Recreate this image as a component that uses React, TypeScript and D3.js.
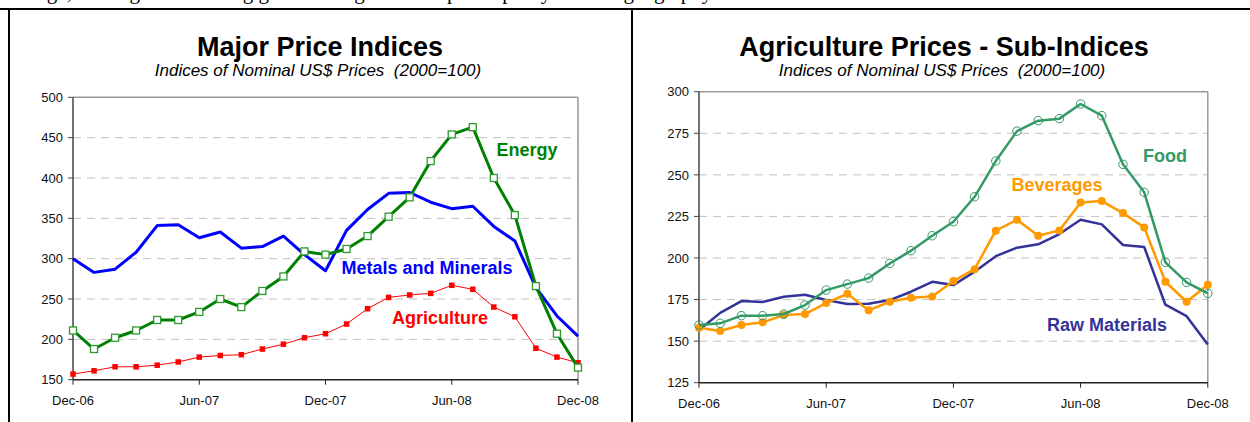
import React from 'react';
import * as d3 from 'd3';

const months = [
  'Dec-06', 'Jan-07', 'Feb-07', 'Mar-07', 'Apr-07', 'May-07', 'Jun-07', 'Jul-07', 'Aug-07',
  'Sep-07', 'Oct-07', 'Nov-07', 'Dec-07', 'Jan-08', 'Feb-08', 'Mar-08', 'Apr-08', 'May-08',
  'Jun-08', 'Jul-08', 'Aug-08', 'Sep-08', 'Oct-08', 'Nov-08', 'Dec-08',
];
const tickMonths = ['Dec-06', 'Jun-07', 'Dec-07', 'Jun-08', 'Dec-08'];

// major price indices
const energy = [211, 188, 202, 211, 224, 224, 234, 250, 240, 260, 278, 309, 305, 312, 328, 352, 376, 421, 454, 463, 400, 354, 266, 207, 165];
const metals = [300, 283, 287, 308, 341, 342, 326, 333, 313, 315, 328, 305, 285, 335, 361, 381, 382, 370, 362, 365, 340, 322, 264, 229, 204];
const agriculture = [157, 161, 166, 166, 168, 172, 178, 180, 181, 188, 194, 202, 207, 219, 238, 252, 255, 257, 267, 262, 240, 228, 189, 178, 171];
const majorTicks = [150, 200, 250, 300, 350, 400, 450, 500];

// agriculture sub-indices
const food = [159.7, 160.7, 165.3, 165.3, 166.3, 171.7, 180.7, 184.3, 187.9, 196.7, 204.4, 213.4, 221.8, 236.8, 258.3, 276.3, 282.6, 283.8, 292.6, 285.6, 256.3, 239.5, 197.4, 185.3, 178.7];
const beverages = [158.1, 156.1, 159.7, 161.3, 165.7, 166.3, 172.9, 178.5, 168.5, 173.7, 176.1, 176.9, 186.1, 193.3, 216.4, 223, 213.4, 216.6, 233.4, 234.2, 227, 218.4, 185.7, 173.7, 183.9];
const rawMaterials = [156.7, 167, 174.1, 173.5, 176.7, 177.9, 174.7, 172.3, 172.5, 174.7, 179.7, 185.7, 183.7, 191.7, 201.1, 206.2, 208.2, 214.4, 223, 220.2, 207.8, 206.6, 171.9, 165, 148];
const subTicks = [125, 150, 175, 200, 225, 250, 275, 300];

const FONT = '"Liberation Sans", Arial, sans-serif';

type Series = {
  name: string;
  values: number[];
  color: string;
  width: number;
  marker?: 'square' | 'openSquare' | 'dot' | 'openCircle';
  markerColor?: string;
  markerSize?: number;
  label: { x: number; y: number };
};

type PanelProps = {
  title: string;
  titleX: number;
  left: number;
  right: number;
  top: number;
  bottom: number;
  domain: [number, number];
  ticks: number[];
  series: Series[];
};

function Panel({ title, titleX, left, right, top, bottom, domain, ticks, series }: PanelProps) {
  const x = d3.scalePoint<string>().domain(months).range([left, right]);
  const y = d3.scaleLinear().domain(domain).range([bottom, top]);
  const line = d3
    .line<number>()
    .x((_, i) => x(months[i]) as number)
    .y((d) => y(d));

  return (
    <g>
      <text x={titleX} y={56} textAnchor="middle" fontFamily={FONT} fontWeight="bold" fontSize={27}>
        {title}
      </text>
      <text x={titleX - 2} y={76} textAnchor="middle" fontFamily={FONT} fontStyle="italic" fontSize={17} style={{ whiteSpace: 'pre' }}>
        {'Indices of Nominal US$ Prices  (2000=100)'}
      </text>

      {/* gridlines */}
      {ticks.slice(1, -1).map((t) => (
        <line key={t} x1={left} x2={right} y1={y(t)} y2={y(t)} stroke="#c0c0c0" strokeWidth={1} strokeDasharray="8,6" />
      ))}
      {/* plot frame top + right */}
      <line x1={left} x2={right} y1={top} y2={top} stroke="#999" strokeWidth={1.5} />
      <line x1={right} x2={right} y1={top} y2={bottom} stroke="#999" strokeWidth={1.5} />

      {/* y axis */}
      <line x1={left} x2={left} y1={top} y2={bottom} stroke="#444" strokeWidth={1.5} />
      {ticks.map((t) => (
        <g key={t}>
          <line x1={left - 5} x2={left} y1={y(t)} y2={y(t)} stroke="#444" strokeWidth={1} />
          <text x={left - 10} y={y(t)} dy="0.36em" textAnchor="end" fontFamily={FONT} fontSize={13} fill="#111">
            {t}
          </text>
        </g>
      ))}

      {/* x axis */}
      <line x1={left} x2={right} y1={bottom} y2={bottom} stroke="#222" strokeWidth={1.5} />
      {tickMonths.map((m) => (
        <g key={m}>
          <line x1={x(m)} x2={x(m)} y1={bottom} y2={bottom + 5} stroke="#222" strokeWidth={1} />
          <text x={x(m)} y={bottom + 25} textAnchor="middle" fontFamily={FONT} fontSize={13} fill="#111">
            {m}
          </text>
        </g>
      ))}

      {series.map((s) => (
        <g key={s.name}>
          <path d={line(s.values) || ''} fill="none" stroke={s.color} strokeWidth={s.width} strokeLinejoin="round" />
          {s.values.map((v, i) => {
            const px = x(months[i]) as number;
            const py = y(v);
            const sz = s.markerSize || 6;
            if (s.marker === 'openSquare')
              return <rect key={i} x={px - sz / 2} y={py - sz / 2} width={sz} height={sz} fill="#fff" stroke={s.markerColor} strokeWidth={1.3} />;
            if (s.marker === 'square')
              return <rect key={i} x={px - sz / 2} y={py - sz / 2} width={sz} height={sz} fill={s.markerColor} />;
            if (s.marker === 'dot')
              return <circle key={i} cx={px} cy={py} r={sz / 2} fill={s.markerColor} />;
            if (s.marker === 'openCircle')
              return <circle key={i} cx={px} cy={py} r={sz / 2} fill="none" stroke={s.markerColor} strokeWidth={1} />;
            return null;
          })}
          <text x={s.label.x} y={s.label.y} textAnchor="middle" fontFamily={FONT} fontWeight="bold" fontSize={18} fill={s.color}>
            {s.name}
          </text>
        </g>
      ))}
    </g>
  );
}

export default function App() {
  const majorSeries: Series[] = [
    { name: 'Metals and Minerals', values: metals, color: '#0000ff', width: 3, label: { x: 427, y: 274 } },
    { name: 'Agriculture', values: agriculture, color: '#ff0000', width: 1, marker: 'square', markerColor: '#ff0000', markerSize: 5.5, label: { x: 440, y: 324 } },
    { name: 'Energy', values: energy, color: '#008000', width: 3, marker: 'openSquare', markerColor: '#2e9a2e', markerSize: 7, label: { x: 527, y: 156 } },
  ];
  const subSeries: Series[] = [
    { name: 'Raw Materials', values: rawMaterials, color: '#333399', width: 2.5, label: { x: 1107, y: 331 } },
    { name: 'Beverages', values: beverages, color: '#ff9900', width: 2.5, marker: 'dot', markerColor: '#ff9900', markerSize: 8, label: { x: 1057, y: 191 } },
    { name: 'Food', values: food, color: '#339966', width: 2.5, marker: 'openCircle', markerColor: '#339966', markerSize: 8.5, label: { x: 1165, y: 162 } },
  ];

  return (
    <svg width={1250} height={422} style={{ position: 'absolute', left: 0, top: 0, background: '#fff' }}>
      <text x={20} y={-1} fontFamily='"Liberation Serif", serif' fontSize={21} fill="#000">
        range, although the slowing growth in agricultural prices partly reflects geography
      </text>
      {/* document frame */}
      <line x1={0} x2={1250} y1={9} y2={9} stroke="#000" strokeWidth={2} />
      <line x1={9} x2={9} y1={9} y2={422} stroke="#000" strokeWidth={2} />
      <line x1={632} x2={632} y1={9} y2={422} stroke="#000" strokeWidth={2} />

      <Panel title="Major Price Indices" titleX={320} left={73} right={578} top={97.3} bottom={379.7} domain={[150, 500]} ticks={majorTicks} series={majorSeries} />
      <Panel title="Agriculture Prices - Sub-Indices" titleX={944} left={699} right={1207.8} top={91.7} bottom={382.7} domain={[125, 300]} ticks={subTicks} series={subSeries} />
    </svg>
  );
}
